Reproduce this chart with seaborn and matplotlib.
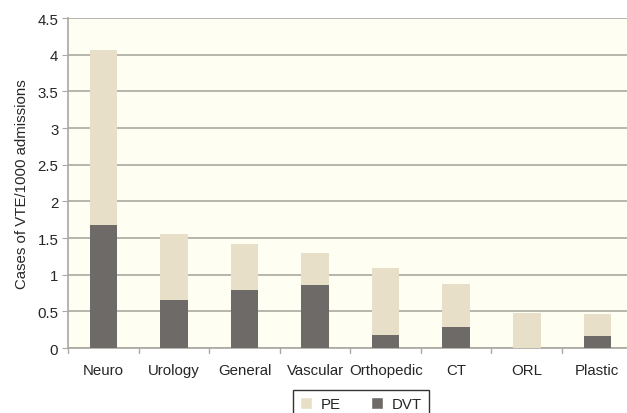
"""
Stacked bar chart of VTE cases per 1000 admissions by surgical specialty.
"""

import matplotlib
matplotlib.use('Agg')
import matplotlib.pyplot as plt
import seaborn as sns
import pandas as pd
from matplotlib.patches import Patch

specialties = ['Neuro', 'Urology', 'General', 'Vascular', 'Orthopedic', 'CT', 'ORL', 'Plastic']
dvt = [1.68, 0.66, 0.79, 0.86, 0.18, 0.29, 0.0, 0.16]
pe = [2.39, 0.89, 0.63, 0.43, 0.91, 0.58, 0.48, 0.30]
y_ticks = [0, 0.5, 1, 1.5, 2, 2.5, 3, 3.5, 4, 4.5]
y_tick_labels = ['0', '0.5', '1', '1.5', '2', '2.5', '3', '3.5', '4', '4.5']

PE_COLOR = '#e8dfc8'
DVT_COLOR = '#6e6a68'
GRID_COLOR = '#a9a9a1'
FS = 10.8

sns.set_style("white")
plt.rcParams['font.family'] = ['Liberation Sans', 'DejaVu Sans']

df = pd.DataFrame({'Specialty': specialties, 'DVT': dvt, 'PE': pe})
df['Total'] = df['DVT'] + df['PE']

fig = plt.figure(figsize=(6.27, 4.14), dpi=100)
ax = fig.add_axes([0.1085, 0.157, 0.8915, 0.797])
ax.set_facecolor('#fffef2')

# totals first (PE on top), then DVT over the bottom part
sns.barplot(data=df, x='Specialty', y='Total', color=PE_COLOR, width=0.39,
            saturation=1, linewidth=0, ax=ax, zorder=3)
sns.barplot(data=df, x='Specialty', y='DVT', color=DVT_COLOR, width=0.39,
            saturation=1, linewidth=0, ax=ax, zorder=4)

ax.set_ylim(0, 4.5)
ax.set_xlim(-0.5, 7.42)
ax.set_yticks(y_ticks)
ax.set_yticklabels(y_tick_labels, fontsize=FS)
ax.yaxis.grid(True, color=GRID_COLOR, linewidth=1.2, zorder=0)
ax.set_axisbelow(True)

ax.set_xlabel('')
ax.set_ylabel('Cases of VTE/1000 admissions', fontsize=FS, labelpad=6)
ax.tick_params(axis='x', labelsize=FS, length=0, pad=11)
ax.tick_params(axis='y', direction='out', length=4, color=GRID_COLOR, left=True, pad=3)

# category separator ticks on the x axis
for k in range(len(specialties)):
    ax.plot([k - 0.5, k - 0.5], [0, -0.07], color=GRID_COLOR, linewidth=1,
            clip_on=False, zorder=5)

for side in ['top', 'right']:
    ax.spines[side].set_visible(False)
ax.spines['left'].set_color(GRID_COLOR)
ax.spines['bottom'].set_color(GRID_COLOR)
ax.spines['left'].set_linewidth(1.2)
ax.spines['bottom'].set_linewidth(1.2)

handles = [Patch(facecolor=PE_COLOR, label='PE'), Patch(facecolor=DVT_COLOR, label='DVT')]
leg = fig.legend(handles=handles, loc='lower center', bbox_to_anchor=(0.576, -0.03),
                 ncol=2, fontsize=FS, frameon=True, fancybox=False,
                 handlelength=0.8, handleheight=0.8, columnspacing=2.0,
                 handletextpad=0.6, borderpad=0.45)
leg.get_frame().set_edgecolor('black')
leg.get_frame().set_linewidth(1)

plt.savefig('out.png', dpi=100)
plt.close()
